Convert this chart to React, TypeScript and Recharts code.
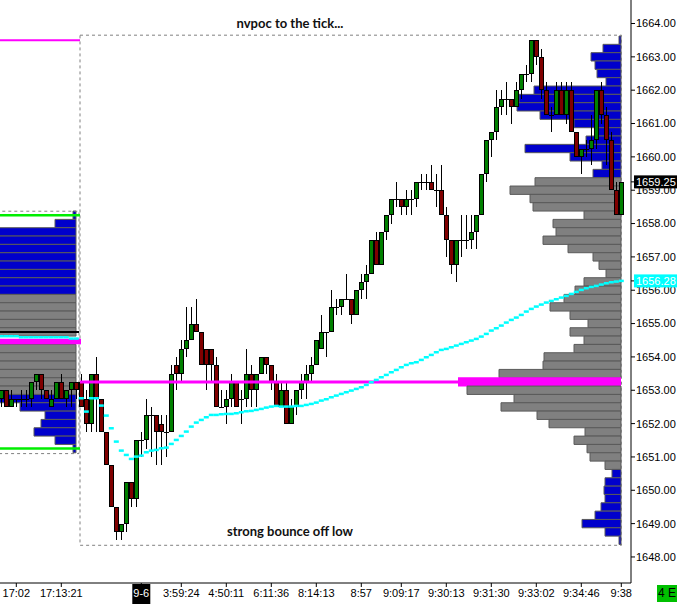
import { Bar, ComposedChart, ReferenceArea, ReferenceLine, Scatter, XAxis, YAxis } from 'recharts';

// previous session tail, [open, high, low, close]
const prevSession = [
  [1652.75, 1653.0, 1652.5, 1653.0], [1653.0, 1653.0, 1652.5, 1652.5], [1652.5, 1653.0, 1652.5, 1652.75],
  [1652.75, 1652.75, 1652.5, 1652.75], [1652.75, 1653.0, 1652.5, 1652.75], [1652.75, 1653.0, 1652.5, 1652.75],
  [1652.75, 1653.25, 1652.5, 1653.25], [1653.25, 1653.5, 1653.0, 1653.5], [1653.5, 1653.5, 1652.75, 1653.0],
  [1653.0, 1653.0, 1652.75, 1652.75], [1652.5, 1653.0, 1652.5, 1652.75], [1652.75, 1653.25, 1652.75, 1653.25],
  [1653.25, 1653.5, 1652.75, 1652.75], [1652.75, 1653.0, 1652.5, 1653.0], [1653.0, 1653.25, 1652.5, 1653.25],
  [1653.25, 1653.25, 1652.75, 1653.0],
];

// current session, [open, high, low, close]
const session = [
  [1653.25, 1653.5, 1652.5, 1652.5], [1652.75, 1653.0, 1651.75, 1652.0], [1652.0, 1653.5, 1651.75, 1653.5],
  [1653.5, 1654.0, 1651.75, 1652.75], [1652.75, 1652.75, 1651.75, 1651.75], [1651.75, 1651.75, 1650.75, 1650.75],
  [1650.75, 1650.75, 1649.5, 1649.5], [1649.5, 1649.5, 1648.5, 1648.75], [1648.75, 1649.0, 1648.5, 1649.0],
  [1649.0, 1650.25, 1648.75, 1650.25], [1650.25, 1650.25, 1649.5, 1649.75], [1649.75, 1651.5, 1649.5, 1651.5],
  [1651.5, 1651.75, 1651.0, 1651.5], [1651.5, 1652.75, 1651.25, 1652.25], [1652.25, 1652.5, 1651.0, 1652.25],
  [1652.25, 1652.25, 1650.75, 1651.75], [1652.0, 1652.25, 1650.75, 1651.75], [1651.75, 1652.25, 1651.0, 1651.75],
  [1651.75, 1653.75, 1651.75, 1653.5], [1653.75, 1654.0, 1653.0, 1653.5], [1653.5, 1654.5, 1653.25, 1654.25],
  [1654.25, 1655.5, 1654.0, 1654.5], [1654.5, 1655.5, 1654.5, 1655.0], [1655.0, 1655.75, 1654.75, 1654.75],
  [1654.75, 1654.75, 1653.75, 1653.75], [1654.25, 1654.25, 1653.0, 1653.75], [1654.25, 1654.25, 1653.25, 1653.75],
  [1653.75, 1654.0, 1652.5, 1652.5], [1652.5, 1653.0, 1652.5, 1652.5], [1652.5, 1653.0, 1652.0, 1652.75],
  [1652.75, 1653.5, 1652.5, 1653.25], [1653.25, 1653.25, 1652.5, 1652.5], [1652.75, 1653.0, 1652.0, 1652.75],
  [1652.75, 1654.25, 1652.5, 1653.5], [1653.5, 1653.75, 1652.5, 1653.0], [1653.0, 1653.5, 1652.5, 1653.5],
  [1653.5, 1654.0, 1653.5, 1654.0], [1654.0, 1654.0, 1653.5, 1653.75], [1653.75, 1653.75, 1653.0, 1653.25],
  [1653.25, 1653.5, 1652.5, 1652.5], [1652.5, 1653.25, 1652.5, 1653.0], [1653.0, 1653.25, 1652.0, 1652.0],
  [1652.0, 1652.75, 1652.0, 1652.5], [1652.5, 1653.0, 1652.25, 1653.0], [1653.0, 1653.5, 1652.75, 1653.25],
  [1653.25, 1653.75, 1652.75, 1653.5], [1653.5, 1654.0, 1653.25, 1653.75], [1653.75, 1654.5, 1653.75, 1654.5],
  [1654.25, 1655.25, 1654.25, 1654.75], [1654.75, 1654.75, 1654.0, 1654.75], [1654.75, 1656.0, 1654.75, 1655.5],
  [1655.5, 1655.75, 1655.25, 1655.5], [1655.5, 1655.75, 1655.25, 1655.75], [1655.75, 1656.5, 1655.75, 1655.75],
  [1655.75, 1655.75, 1655.0, 1655.25], [1655.25, 1656.0, 1655.25, 1656.0], [1656.0, 1656.5, 1655.75, 1656.25],
  [1656.25, 1656.75, 1655.75, 1656.5], [1656.5, 1657.5, 1656.5, 1657.5], [1657.5, 1657.75, 1656.75, 1656.75],
  [1656.75, 1657.75, 1656.75, 1657.75], [1657.75, 1658.25, 1657.5, 1658.25], [1658.25, 1658.75, 1658.0, 1658.75],
  [1658.75, 1659.25, 1658.5, 1658.75], [1658.75, 1658.75, 1658.25, 1658.5], [1658.5, 1659.0, 1658.25, 1658.75],
  [1658.75, 1659.0, 1658.25, 1658.75], [1658.75, 1659.25, 1658.5, 1659.25], [1659.25, 1659.5, 1659.0, 1659.25],
  [1659.25, 1659.5, 1659.0, 1659.25], [1659.25, 1659.75, 1659.0, 1659.0], [1659.0, 1659.5, 1658.5, 1659.0],
  [1659.0, 1659.75, 1658.25, 1658.25], [1658.25, 1658.5, 1657.0, 1657.5], [1657.5, 1657.5, 1656.5, 1656.75],
  [1656.75, 1657.5, 1656.25, 1657.5], [1657.5, 1658.25, 1657.0, 1657.5], [1657.5, 1658.25, 1657.25, 1657.5],
  [1657.5, 1658.25, 1657.25, 1657.75], [1657.75, 1658.25, 1657.25, 1658.25], [1658.25, 1659.5, 1658.25, 1659.5],
  [1659.5, 1660.5, 1659.25, 1660.5], [1660.5, 1660.75, 1660.0, 1660.75], [1660.75, 1662.0, 1660.5, 1661.5],
  [1661.5, 1662.0, 1661.25, 1661.75], [1661.75, 1662.25, 1661.25, 1661.75], [1661.75, 1661.75, 1661.0, 1661.5],
  [1661.5, 1662.25, 1661.5, 1662.0], [1662.0, 1662.5, 1661.75, 1662.5], [1662.5, 1662.75, 1662.25, 1662.5],
  [1662.5, 1663.5, 1662.25, 1663.5], [1663.5, 1663.5, 1662.75, 1663.0], [1663.0, 1663.25, 1661.75, 1662.0],
  [1662.0, 1662.25, 1661.25, 1661.25], [1661.25, 1661.5, 1660.75, 1661.25], [1661.25, 1662.25, 1661.25, 1662.0],
  [1662.0, 1662.25, 1661.25, 1661.25], [1661.25, 1662.25, 1661.0, 1662.0], [1662.0, 1662.25, 1660.75, 1660.75],
  [1660.75, 1660.75, 1660.0, 1660.0], [1660.0, 1660.25, 1659.5, 1660.25], [1660.25, 1660.5, 1660.0, 1660.25],
  [1660.25, 1661.25, 1659.75, 1660.5], [1660.5, 1662.0, 1660.25, 1662.0], [1662.0, 1662.25, 1661.0, 1661.25],
  [1661.25, 1661.5, 1659.75, 1660.5], [1660.5, 1660.75, 1659.0, 1659.0], [1659.0, 1659.25, 1658.25, 1658.25],
  [1658.25, 1659.25, 1658.25, 1659.25],
];

const prevVwap = [
  1654.62, 1654.62, 1654.62, 1654.62, 1654.59, 1654.59, 1654.59, 1654.59,
  1654.59, 1654.59, 1654.59, 1654.59, 1654.59, 1654.59, 1654.55, 1654.55,
];

const sessionVwap = [
  1652.76, 1652.36, 1652.76, 1652.76, 1652.54, 1652.24, 1651.86, 1651.46, 1651.19, 1651.06,
  1650.94, 1651.01, 1651.04, 1651.14, 1651.19, 1651.21, 1651.26, 1651.28, 1651.39, 1651.51,
  1651.63, 1651.76, 1651.91, 1652.03, 1652.11, 1652.19, 1652.26, 1652.26, 1652.28, 1652.29,
  1652.29, 1652.31, 1652.34, 1652.37, 1652.38, 1652.41, 1652.44, 1652.48, 1652.51, 1652.53,
  1652.51, 1652.51, 1652.51, 1652.53, 1652.53, 1652.56, 1652.59, 1652.63, 1652.69, 1652.73,
  1652.79, 1652.84, 1652.89, 1652.94, 1652.99, 1653.04, 1653.09, 1653.16, 1653.24, 1653.31,
  1653.39, 1653.46, 1653.54, 1653.61, 1653.69, 1653.76, 1653.81, 1653.84, 1653.91, 1653.99,
  1654.06, 1654.14, 1654.21, 1654.24, 1654.29, 1654.34, 1654.39, 1654.44, 1654.49, 1654.54,
  1654.61, 1654.69, 1654.79, 1654.86, 1654.94, 1655.03, 1655.11, 1655.18, 1655.26, 1655.36,
  1655.44, 1655.51, 1655.57, 1655.63, 1655.68, 1655.73, 1655.78, 1655.83, 1655.89, 1655.95,
  1656.01, 1656.06, 1656.1, 1656.13, 1656.17, 1656.21, 1656.24, 1656.26, 1656.28,
];

// volume profile, [price, volume]
const prevProfile = [
  [1658.25, 3], [1658.0, 21], [1657.75, 130], [1657.5, 140], [1657.25, 150], [1657.0, 145],
  [1656.75, 160], [1656.5, 150], [1656.25, 140], [1656.0, 150], [1655.75, 170], [1655.5, 180],
  [1655.25, 175], [1655.0, 190], [1654.75, 200], [1654.5, 230], [1654.25, 210], [1654.0, 190],
  [1653.75, 180], [1653.5, 170], [1653.25, 160], [1653.0, 150], [1652.75, 110], [1652.5, 56],
  [1652.25, 31], [1652.0, 35], [1651.75, 42], [1651.5, 21], [1651.25, 3],
];

const sessionProfile = [
  [1663.5, 2], [1663.25, 18], [1663.0, 30], [1662.75, 26], [1662.5, 24], [1662.25, 15],
  [1662.0, 87], [1661.75, 102], [1661.5, 104], [1661.25, 81], [1661.0, 47], [1660.75, 24],
  [1660.5, 35], [1660.25, 96], [1660.0, 51], [1659.75, 19], [1659.5, 28], [1659.25, 86],
  [1659.0, 111], [1658.75, 91], [1658.5, 88], [1658.25, 37], [1658.0, 68], [1657.75, 65],
  [1657.5, 78], [1657.25, 53], [1657.0, 28], [1656.75, 22], [1656.5, 15], [1656.25, 37],
  [1656.0, 46], [1655.75, 57], [1655.5, 71], [1655.25, 51], [1655.0, 33], [1654.75, 51],
  [1654.5, 37], [1654.25, 47], [1654.0, 77], [1653.75, 78], [1653.5, 122], [1653.25, 163],
  [1653.0, 154], [1652.75, 107], [1652.5, 120], [1652.25, 84], [1652.0, 72], [1651.75, 36],
  [1651.5, 47], [1651.25, 34], [1651.0, 31], [1650.75, 16], [1650.5, 9], [1650.25, 16],
  [1650.0, 17], [1649.75, 16], [1649.5, 20], [1649.25, 26], [1649.0, 39], [1648.75, 16],
  [1648.5, 2],
];

const prevValueArea = [1653.0, 1655.75];
const sessionValueArea = [1650.75, 1659.25];
const prevPoc = 1654.5;
const nvpoc = 1653.25;
const prevNvpoc = 1663.5;
const prevHigh = 1658.25;
const prevLow = 1651.25;
const prevMark = 1654.75;
const lastPrice = 1659.25;
const vwapNow = 1656.28;

const timeTicks = [3, 12, 28, 36, 45, 54, 63, 72, 80, 89, 98, 107, 116, 124];
const timeLabels = ['17:02', '17:13:21', '9-6', '3:59:24', '4:50:11', '6:11:36', '8:14:13', '8:57', '9:09:17', '9:30:13', '9:31:30', '9:33:02', '9:34:46', '9:38'];
const priceTicks = [1648, 1649, 1650, 1651, 1652, 1653, 1654, 1655, 1656, 1657, 1658, 1659, 1660, 1661, 1662, 1663, 1664];

const startIdx = prevSession.length;
const lastIdx = prevSession.length + session.length - 1;

// profiles hang off the right edge of each session, measured in bar slots
const volPerSlot = 5;
const prevAnchor = startIdx - 1.06;
const sessionAnchor = lastIdx - 0.06;

const candles = [...prevSession, ...session].map(([o, h, l, c], i) => ({ i, o, h, l, c }));
const vwapPoints = [...prevVwap, ...sessionVwap].map((v, i) => ({ i, v }));

const FONT = '"Liberation Sans", Arial, sans-serif';
const BLUE = '#0000cc';
const GRAY = '#808080';
const EDGE = '#5a5a5a';
const MAGENTA = '#ff00ff';

function Candle(props: any) {
  const { x, y, width, height, payload } = props;
  if (x == null || !payload) return null;
  const top = Math.min(y, y + height);
  const h = Math.abs(height);
  const span = payload.h - payload.l;
  const k = span > 0 ? h / span : 0;
  const cx = Math.round(x + width / 2);
  const yo = top + (payload.h - payload.o) * k;
  const yc = top + (payload.h - payload.c) * k;
  const bTop = Math.round(Math.min(yo, yc));
  const bBot = Math.round(Math.max(yo, yc));
  const up = payload.c >= payload.o;
  return (
    <g shapeRendering="crispEdges">
      <line x1={cx + 0.5} x2={cx + 0.5} y1={Math.round(top)} y2={Math.round(top + h)} stroke="#000" />
      {bBot - bTop < 2 ? (
        <line x1={cx - 2} x2={cx + 3} y1={bTop + 0.5} y2={bTop + 0.5} stroke="#000" />
      ) : (
        <rect x={cx - 1.5} y={bTop + 0.5} width={4} height={bBot - bTop - 1} fill={up ? '#008000' : '#800000'} stroke="#000" />
      )}
    </g>
  );
}

const VwapDash = (props: any) => <rect x={props.cx - 2.5} y={props.cy - 1.25} width={5} height={2.5} fill="#00ffff" />;

function PriceTick(props: any) {
  const { x, y, payload } = props;
  const v = payload.value;
  const text = v.toFixed(2);
  if (v === lastPrice || v === vwapNow) {
    return (
      <g>
        <rect x={x - 2} y={y - 6.5} width={43} height={13} fill={v === lastPrice ? '#000' : '#00ffff'} />
        <text x={x} y={y} dy="0.355em" fill="#fff" fontSize={11} fontFamily={FONT}>{text}</text>
      </g>
    );
  }
  return <text x={x} y={y} dy="0.355em" fill="#000" fontSize={11} fontFamily={FONT}>{text}</text>;
}

function TimeTick(props: any) {
  const { x, y, payload } = props;
  const label = timeLabels[timeTicks.indexOf(payload.value)];
  const isDate = label === '9-6';
  return (
    <g>
      {isDate && <rect x={x - 9} y={y - 5} width={18} height={20} fill="#000" />}
      <text x={x} y={y} dy="0.71em" textAnchor="middle" fill={isDate ? '#fff' : '#000'} fontSize={11} fontFamily={FONT}>{label}</text>
    </g>
  );
}

const inside = (p: number, va: number[]) => p >= va[0] && p <= va[1];

export default function App() {
  return (
    <div style={{ position: 'absolute', left: 0, top: 0, width: 681, height: 604, background: '#fff' }}>
      <ComposedChart width={681} height={604} data={candles} margin={{ top: 0, right: 0, bottom: 0, left: 0 }}>
        <XAxis
          xAxisId="t" dataKey="i" type="number" domain={[-0.26, 125.94]} allowDataOverflow
          ticks={timeTicks} interval={0} height={21} tickSize={4}
          axisLine={{ stroke: '#000' }} tickLine={{ stroke: '#000' }} tick={<TimeTick />}
        />
        <YAxis
          yAxisId="p" orientation="right" type="number" domain={[1647.219, 1664.705]} allowDataOverflow
          ticks={[...priceTicks, vwapNow, lastPrice]} interval={0} width={50} tickSize={4} tickMargin={1}
          axisLine={{ stroke: '#000' }} tickLine={{ stroke: '#000' }} tick={<PriceTick />}
        />

        {prevProfile.map(([p, v]) =>
          p === prevPoc ? null : (
            <ReferenceArea
              key={'pp' + p} xAxisId="t" yAxisId="p" x1={prevAnchor - v / volPerSlot} x2={prevAnchor}
              y1={p - 0.125} y2={p + 0.125}
              fill={inside(p, prevValueArea) ? GRAY : BLUE} fillOpacity={1} stroke={EDGE} ifOverflow="hidden"
            />
          )
        )}
        {sessionProfile.map(([p, v]) => (
          <ReferenceArea
            key={'sp' + p} xAxisId="t" yAxisId="p" x1={sessionAnchor - v / volPerSlot} x2={sessionAnchor}
            y1={p === nvpoc ? p - 0.14 : p - 0.125} y2={p === nvpoc ? p + 0.14 : p + 0.125}
            fill={p === nvpoc ? MAGENTA : inside(p, sessionValueArea) ? GRAY : BLUE} fillOpacity={1}
            stroke={p === nvpoc ? 'none' : EDGE} ifOverflow="hidden"
          />
        ))}

        <ReferenceArea
          xAxisId="t" yAxisId="p" x1={-1} x2={startIdx - 0.46} y1={1651.1} y2={1658.37}
          fill="none" stroke="#808080" strokeDasharray="3 3" ifOverflow="hidden"
        />
        <ReferenceArea
          xAxisId="t" yAxisId="p" x1={startIdx - 0.26} x2={sessionAnchor + 0.1} y1={1648.35} y2={1663.65}
          fill="none" stroke="#808080" strokeDasharray="3 3" ifOverflow="hidden"
        />

        <Bar xAxisId="t" yAxisId="p" dataKey={(d: any) => [d.l, d.h]} barSize={5} shape={<Candle />} isAnimationActive={false} />

        <ReferenceLine xAxisId="t" yAxisId="p" segment={[{ x: -0.26, y: prevHigh }, { x: startIdx - 0.26, y: prevHigh }]} stroke="#00ee00" strokeWidth={2.5} ifOverflow="hidden" />
        <ReferenceLine xAxisId="t" yAxisId="p" segment={[{ x: -0.26, y: prevLow }, { x: startIdx - 0.26, y: prevLow }]} stroke="#00ee00" strokeWidth={2.5} ifOverflow="hidden" />
        <ReferenceLine xAxisId="t" yAxisId="p" segment={[{ x: -0.26, y: prevNvpoc }, { x: startIdx - 0.26, y: prevNvpoc }]} stroke={MAGENTA} strokeWidth={2} ifOverflow="hidden" />
        <ReferenceLine xAxisId="t" yAxisId="p" segment={[{ x: -0.26, y: prevMark }, { x: startIdx - 0.46, y: prevMark }]} stroke="#000" strokeWidth={2} ifOverflow="hidden" />
        <ReferenceLine xAxisId="t" yAxisId="p" segment={[{ x: -0.26, y: prevPoc - 0.04 }, { x: startIdx - 0.06, y: prevPoc - 0.04 }]} stroke={MAGENTA} strokeWidth={5.5} ifOverflow="hidden" />
        <ReferenceLine xAxisId="t" yAxisId="p" segment={[{ x: startIdx - 0.26, y: nvpoc }, { x: sessionAnchor, y: nvpoc }]} stroke={MAGENTA} strokeWidth={3} ifOverflow="hidden" />

        <Scatter xAxisId="t" yAxisId="p" data={vwapPoints} dataKey="v" shape={<VwapDash />} isAnimationActive={false} />
      </ComposedChart>

      <div style={{ position: 'absolute', left: 190, top: 15, width: 200, textAlign: 'center', font: 'bold 13px Lato, sans-serif', lineHeight: '16px', color: '#111', pointerEvents: 'none' }}>
        nvpoc to the tick...
      </div>
      <div style={{ position: 'absolute', left: 190, top: 523, width: 200, textAlign: 'center', font: 'bold 13px Lato, sans-serif', lineHeight: '16px', color: '#111', pointerEvents: 'none' }}>
        strong bounce off low
      </div>
      <div style={{ position: 'absolute', left: 657, top: 585, width: 20, height: 17, background: '#00c000', textAlign: 'center', font: `12px ${FONT}`, lineHeight: '17px', color: '#000' }}>
        4 E
      </div>
    </div>
  );
}
